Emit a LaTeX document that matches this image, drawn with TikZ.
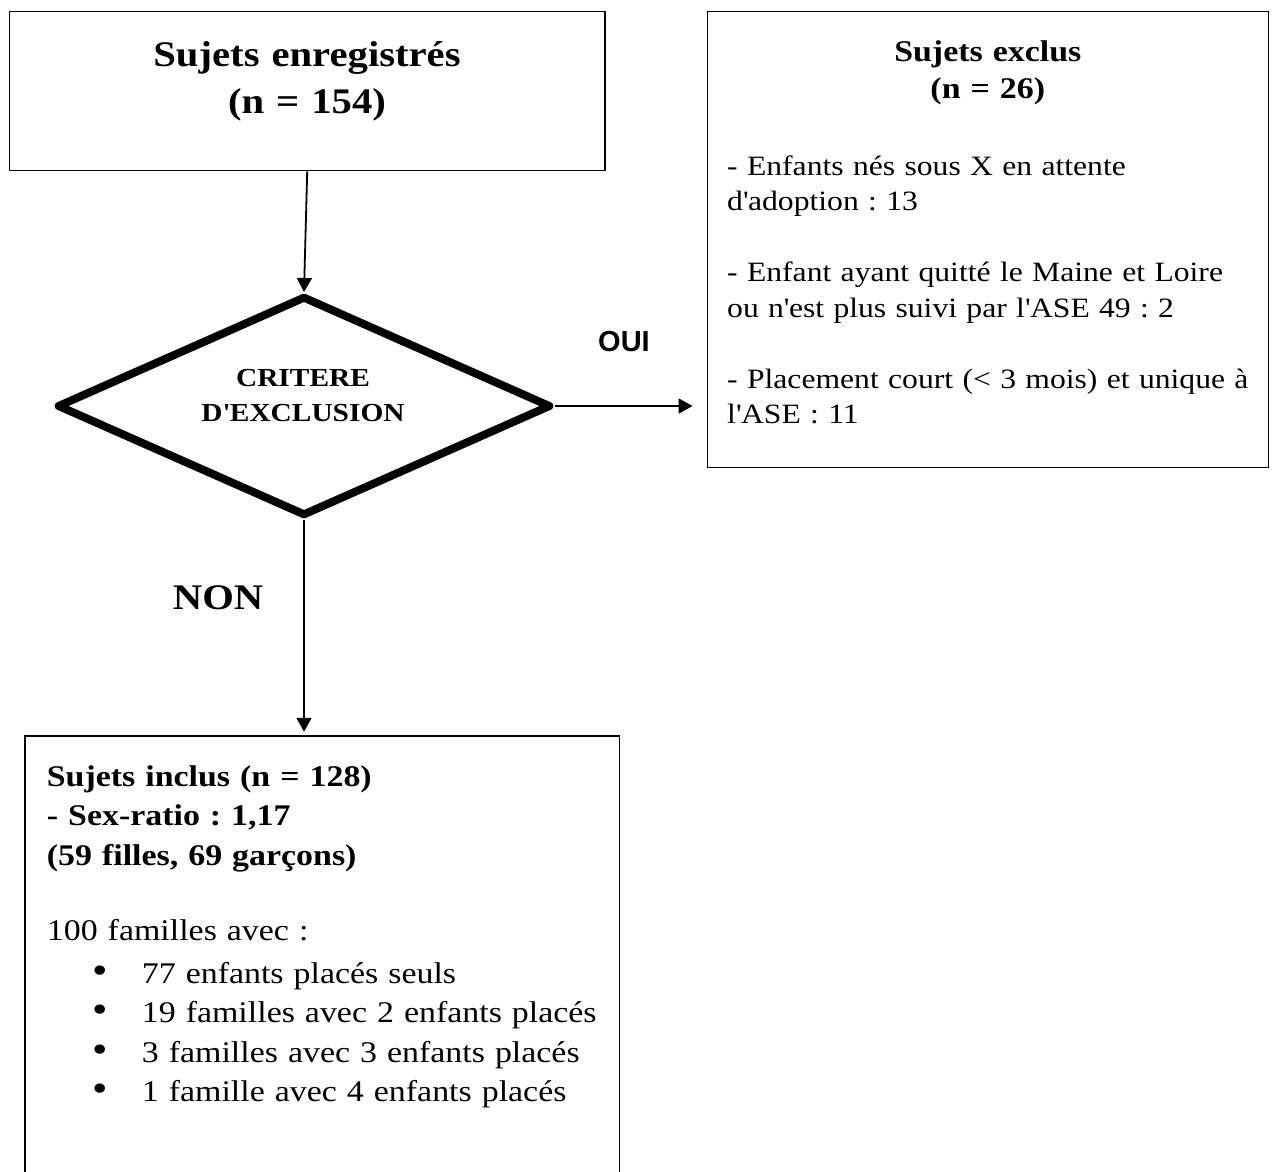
\documentclass[tikz,border=0pt]{standalone}
\usepackage{fontspec}
\setmainfont[FakeStretch=1.13]{Liberation Serif}
\newfontfamily\ouifont{Liberation Sans}
\usetikzlibrary{arrows.meta,shapes.geometric,positioning}
\newcommand\apo{\textquotesingle}
\frenchspacing

\begin{document}
\begin{tikzpicture}[x=1pt,y=-1pt,
    cadre/.style={draw, line width=1.5pt, inner sep=0pt},
    losange/.style={draw, diamond, line width=8pt, line join=round, inner sep=0pt,
      minimum width=494pt, minimum height=220pt},
    fleche/.style={line width=1.8pt, -{Triangle[length=14pt,width=15pt]}},
    texte/.style={inner sep=0pt, align=left}]
    \useasboundingbox (0,0) rectangle (1274,1171);
    \clip (0,0) rectangle (1274,1171);
    \fill[white] (0,0) rectangle (1274,1171);

    % les cadres
    \node[cadre, minimum width=595.7pt, minimum height=159pt] (enreg) at (307.2,91.2) {};
    \node[cadre, minimum width=561pt, minimum height=456pt] (exclus) at (987.8,239.7) {};
    \node[cadre, minimum width=594.3pt, minimum height=454pt] (inclus) at (322.2,963) {};
    \node[losange] (critere) at (304,406) {};

    % les textes
    \node[texte, anchor=base, text width=580pt, align=center,
      font=\fontsize{36}{47}\selectfont\bfseries] (enregtxt) at (307,66)
      {Sujets enregistrés\\(n = 154)};
    \node[texte, anchor=base, text width=280pt, align=center,
      font=\fontsize{26}{35}\selectfont\bfseries] (criteretxt) at (303,386.7)
      {CRITERE\\D\apo EXCLUSION};
    \node[texte, anchor=base, text width=540pt, align=center,
      font=\fontsize{30}{37}\selectfont\bfseries] (exclustitre) at (987.8,61)
      {Sujets exclus\\(n = 26)};
    \node[texte, anchor=base west, text width=535pt,
      font=\fontsize{28}{35.5}\selectfont] (exclustxt) at (727,175)
      {- Enfants nés sous X en attente\\
       d\apo adoption : 13\\[35.5pt]
       - Enfant ayant quitté le Maine et Loire\\
       ou n\apo est plus suivi par l\apo ASE 49 : 2\\[35.5pt]
       - Placement court (< 3 mois) et unique à\\
       l\apo ASE : 11};
    \node[texte, anchor=base west, text width=565pt,
      font=\fontsize{30}{39.5}\selectfont] (inclustxt) at (46.7,786)
      {\textbf{Sujets inclus (n = 128)}\\
       \textbf{- Sex-ratio : 1,17}\\
       \textbf{(59 filles, 69 garçons)}\\[35.5pt]
       100 familles avec :\\[3.8pt]
       \makebox[95pt][l]{\hspace*{46pt}\scalebox{1.3}{\textbullet}}77 enfants placés seuls\\
       \makebox[95pt][l]{\hspace*{46pt}\scalebox{1.3}{\textbullet}}19 familles avec 2 enfants placés\\
       \makebox[95pt][l]{\hspace*{46pt}\scalebox{1.3}{\textbullet}}3 familles avec 3 enfants placés\\
       \makebox[95pt][l]{\hspace*{46pt}\scalebox{1.3}{\textbullet}}1 famille avec 4 enfants placés};
    \node[texte, anchor=base west, font=\fontsize{29}{35}\ouifont\bfseries] (oui) at (598,351) {OUI};
    \node[texte, anchor=base west, font=\fontsize{36}{44}\selectfont\bfseries] (non) at (172.7,609.3) {NON};

    % les fleches
    \draw[fleche] (enreg.south) -- (critere.north);
    \draw[fleche, shorten >=14pt] (critere.east) -- (critere.east -| exclus.west);
    \draw[fleche, shorten >=3.5pt] (critere.south) -- (critere.south |- inclus.north);
\end{tikzpicture}
\end{document}
